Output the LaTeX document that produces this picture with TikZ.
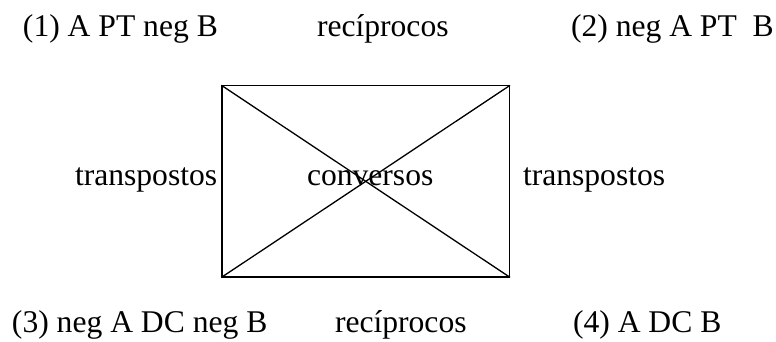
\documentclass[tikz,border=0pt]{standalone}
\usepackage{fontspec}
\setmainfont{Liberation Serif}
\begin{document}
\begin{tikzpicture}[x=1pt,y=-1pt,
  lbl/.style={anchor=base west,inner sep=0pt,outer sep=0pt,font=\fontsize{31.6}{36}\selectfont},
  edge/.style={line width=1.6pt,line cap=rect}]
\useasboundingbox (0,0) rectangle (776,342);
% corners of the square of opposition
\coordinate (tl) at (222,85.7);
\coordinate (tr) at (509.5,85.7);
\coordinate (bl) at (222,277);
\coordinate (br) at (509.5,277);
\draw[edge] (tl) -- (tr) -- (br) -- (bl) -- cycle;
\draw[edge,line width=1.3pt] (tl) -- (br);
\draw[edge,line width=1.3pt] (tr) -- (bl);
% labels
\node[lbl] (p1) at (23,37) {(1) A PT neg B};
\node[lbl] (rt) at (317,37) {recíprocos};
\node[lbl] (p2) at (571,37) {(2) neg A PT\ \ B};
\node[lbl] (tL) at (75,185) {transpostos};
\node[lbl] (cv) at (307,185) {conversos};
\node[lbl] (tR) at (523,185) {transpostos};
\node[lbl] (p3) at (12,332) {(3) neg A DC neg B};
\node[lbl] (rb) at (335,332) {recíprocos};
\node[lbl] (p4) at (573,332) {(4) A DC B};
\end{tikzpicture}
\end{document}
